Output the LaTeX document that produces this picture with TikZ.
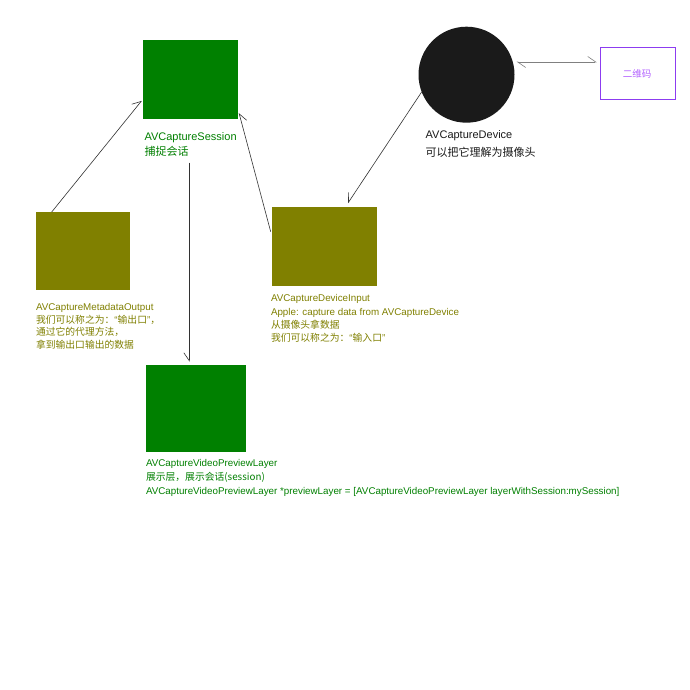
\documentclass[tikz,border=0pt]{standalone}
\usepackage{fontspec}
\setmainfont{Liberation Sans}
\newfontfamily\lat{Liberation Sans}
\newfontfamily\cjk{Noto Sans CJK SC}
\usetikzlibrary{arrows.meta,calc}
\definecolor{avgreen}{RGB}{0,128,0}
\definecolor{avolive}{RGB}{128,128,0}
\definecolor{qrpurple}{RGB}{140,60,240}
\definecolor{qrtext}{RGB}{180,100,255}
\definecolor{devblack}{RGB}{26,26,26}
\definecolor{linkgray}{RGB}{50,50,50}
\begin{document}
\begin{tikzpicture}[x=1pt,y=-1pt,
  blk/.style={inner sep=0pt, outer sep=0pt, anchor=north west},
  txt/.style={inner sep=0pt, outer sep=0pt, anchor=base west, font=\fontsize{11}{13}\selectfont},
  cj/.style={font=\cjk\fontsize{11}{13}\selectfont},
  stxt/.style={inner sep=0pt, outer sep=0pt, anchor=base west, font=\fontsize{9.8}{12}\selectfont},
  scj/.style={font=\cjk\fontsize{9.8}{12}\selectfont},
  lk/.style={draw=linkgray, line width=0.6pt},
  hl/.style={-{Straight Barb[harpoon,length=8pt,width=11pt]}},
  hr/.style={-{Straight Barb[harpoon,swap,length=8pt,width=11pt]}},
]
\useasboundingbox[fill=white] (0,0) rectangle (690,690);

% boxes
\node[blk, fill=avgreen, minimum width=95.6pt, minimum height=79.3pt] (session) at (142.7,40) {};
\node[blk, fill=avolive, minimum width=94pt, minimum height=78pt] (meta) at (36,212) {};
\node[blk, fill=avolive, minimum width=105pt, minimum height=79.3pt] (devin) at (271.7,206.7) {};
\node[blk, fill=avgreen, minimum width=100pt, minimum height=86.7pt] (preview) at (146,365) {};
\node[circle, fill=devblack, minimum size=96pt, inner sep=0pt, outer sep=0pt] (dev) at (466.5,74.7) {};
\node[blk, draw=qrpurple, line width=1pt, minimum width=75pt, minimum height=52pt] (qr) at (600,47.5) {};
\node[inner sep=0pt, text=qrtext, font=\cjk\fontsize{9.5}{11}\selectfont] (qrlabel) at (637,73.5) {二维码};

% labels
\node[txt, text=avgreen] (sesl1) at (144.5,140) {AVCaptureSession};
\node[txt, cj, text=avgreen] (sesl2) at (144.5,155) {捕捉会话};

\node[txt, text=devblack] (devl1) at (425.7,139) {AVCaptureDevice};
\node[txt, cj, text=devblack] (devl2) at (425.7,156) {可以把它理解为摄像头};

\node[stxt, text=avolive] (metal1) at (36,310) {AVCaptureMetadataOutput};
\node[stxt, scj, text=avolive] (metal2) at (36,323.3) {我们可以称之为：{\lat “}输出口{\lat ”}，};
\node[stxt, scj, text=avolive] (metal3) at (36,335.7) {通过它的代理方法，};
\node[stxt, scj, text=avolive] (metal4) at (36,348) {拿到输出口输出的数据};

\node[stxt, text=avolive] (devinl1) at (271,301.3) {AVCaptureDeviceInput};
\node[stxt, text=avolive] (devinl2) at (271,315) {Apple: capture data from AVCaptureDevice};
\node[stxt, scj, text=avolive] (devinl3) at (271,328.3) {从摄像头拿数据};
\node[stxt, scj, text=avolive] (devinl4) at (271,341.7) {我们可以称之为：{\lat “}输入口{\lat ”}};

\node[stxt, text=avgreen] (prevl1) at (146,466.7) {AVCaptureVideoPreviewLayer};
\node[stxt, scj, text=avgreen] (prevl2) at (146,480.7) {展示层，展示会话(session)};
\node[stxt, text=avgreen] (prevl3) at (146,494.7) {AVCaptureVideoPreviewLayer *previewLayer = [AVCaptureVideoPreviewLayer layerWithSession:mySession]};

% connectors
\draw[lk,hl] ($(meta.north west)+(15.7,0)$) -- ($(session.north west)+(-1,60.7)$);
\draw[lk,hr] ($(devin.north west)+(-1,25)$) -- ($(session.south east)+(0.7,-6.3)$);
\draw[lk,hr] (dev.201.5) -- ($(devin.north west)+(76.3,-3.7)$);
\draw[lk,hr] ($(session.south west)+(46.6,43.4)$) -- ($(preview.north west)+(43.3,-3.3)$);
\draw[draw=gray, line width=0.6pt, {Straight Barb[harpoon,length=8pt,width=11pt]}-{Straight Barb[harpoon,length=8pt,width=11pt]}]
  ($(dev.center)+(50.2,-12.7)$) -- ($(qr.north west)+(-3.3,14.5)$);
\end{tikzpicture}
\end{document}
